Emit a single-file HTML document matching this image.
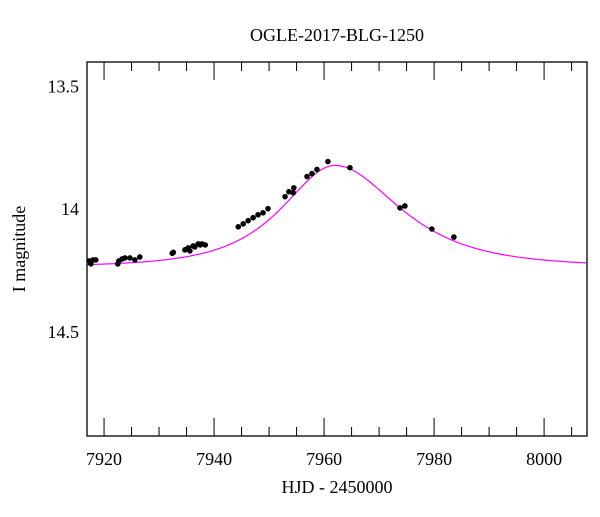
<!DOCTYPE html>
<html><head><meta charset="utf-8"><style>
body{margin:0;background:#fff;}
svg text{font-family:"Liberation Serif",serif;fill:#000;}
</style></head><body>
<svg id="chart" width="600" height="512" viewBox="0 0 600 512">
<text x="337" y="41" font-size="18" text-anchor="middle">OGLE-2017-BLG-1250</text>
<text transform="translate(25,249) rotate(-90)" font-size="18" text-anchor="middle">I magnitude</text>
<text x="337" y="493" font-size="18" text-anchor="middle">HJD - 2450000</text>
<g id="axes"></g><g id="model"></g><g id="points"></g>
<rect x="87" y="62" width="500" height="374" fill="none" stroke="#000" stroke-width="1.3"/>
</svg>
<script>
const xTicks=[7920,7940,7960,7980,8000];
const yTicks=[13.5,14,14.5];
const yTickLabels=["13.5","14","14.5"];
const obsDays=[7917.3,7917.6,7918,7918.5,7922.5,7922.7,7923.3,7923.8,7924.7,7925.6,7926.5,7932.4,7932.6,7934.7,7935.3,7935.6,7936.2,7936.5,7937.1,7937.5,7937.8,7938.4,7944.4,7945.3,7946.2,7947.1,7948,7948.9,7949.8,7952.9,7953.6,7954.5,7954.4,7956.9,7957.8,7958.7,7960.7,7964.7,7973.8,7974.7,7979.6,7983.6];
const obsMags=[14.211,14.223,14.207,14.207,14.223,14.211,14.203,14.199,14.199,14.207,14.195,14.18,14.176,14.166,14.158,14.17,14.15,14.154,14.142,14.146,14.142,14.146,14.072,14.06,14.047,14.035,14.023,14.015,13.998,13.949,13.929,13.913,13.933,13.867,13.855,13.838,13.806,13.831,13.995,13.987,14.081,14.114];
const modelParams=[7962,0.86,12.5,15.2,14.235]; // t0,u0,tE_left,tE_right,baseline
const X0=7916.9,X1=8007.8,Y0=13.4,Y1=14.925;
const L=87,R=587,T=62,B=436;
const sx=d=>L+(d-X0)/(X1-X0)*(R-L);
const sy=m=>T+(m-Y0)/(Y1-Y0)*(B-T);
const NS="http://www.w3.org/2000/svg";
function mk(tag,attrs,parent){const e=document.createElementNS(NS,tag);for(const k in attrs)e.setAttribute(k,attrs[k]);parent.appendChild(e);return e;}
const ax=document.getElementById('axes');
for(let d=7920;d<=X1;d+=5){
  const major=xTicks.includes(d);const len=major?18:9;const x=sx(d);
  let t=mk('line',{x1:x,x2:x,y1:B,y2:B-len,stroke:'#000','stroke-width':1},ax);
  
  t=mk('line',{x1:x,x2:x,y1:T,y2:T+len,stroke:'#000','stroke-width':1},ax);
  
}
xTicks.forEach(d=>{const t=mk('text',{x:sx(d),y:B+29,'font-size':18,'text-anchor':'middle'},ax);t.textContent=d;
  });
for(let i=14;i<=29;i++){
  const m=i/10;const major=(i%5===0);const len=major?18:9;const y=sy(m);
  if(y<T||y>B)continue;
  let t=mk('line',{x1:L,x2:L+len,y1:y,y2:y,stroke:'#000','stroke-width':1},ax);
  
  t=mk('line',{x1:R,x2:R-len,y1:y,y2:y,stroke:'#000','stroke-width':1},ax);
  
}
yTicks.forEach((m,i)=>{const t=mk('text',{x:79,y:sy(m)+6,'font-size':18,'text-anchor':'end'},ax);t.textContent=yTickLabels[i];
  });
function modelMag(t){const [t0,u0,tl,tr,base]=modelParams;const tau=(t-t0)/(t<t0?tl:tr);const u=Math.sqrt(u0*u0+tau*tau);
  const A=(u*u+2)/(u*Math.sqrt(u*u+4));return base-2.5*Math.log10(A);}
let dpath='';for(let t=X0;t<=X1;t+=0.25){dpath+=(dpath?'L':'M')+sx(t).toFixed(2)+','+sy(modelMag(t)).toFixed(2);}
const mp=mk('path',{d:dpath,fill:'none',stroke:'#ff00ff','stroke-width':1.2},document.getElementById('model'));


const pg=document.getElementById('points');
obsDays.forEach((d,i)=>{const c=mk('circle',{cx:sx(d),cy:sy(obsMags[i]),r:2.8,fill:'#000'},pg);
  
  });
</script>
</body></html>
